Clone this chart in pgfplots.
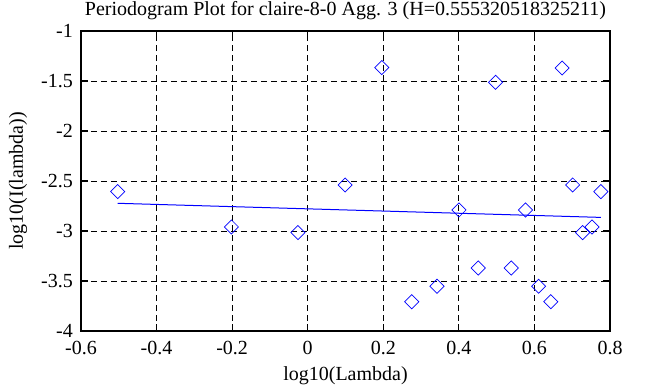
\documentclass[border=0pt]{standalone}
\usepackage{fontspec}
\setmainfont{Liberation Serif}
\usepackage{pgfplots}
\pgfplotsset{compat=1.18}
\begin{document}
\begin{tikzpicture}[x=1pt,y=1pt]
\useasboundingbox (-81,-56) rectangle (572,331);
\begin{axis}[
  at={(0,0)}, anchor=south west,
  scale only axis, width=529pt, height=300pt,
  xmin=-0.6, xmax=0.8, ymin=-4, ymax=-1,
  xtick={-0.6,-0.4,-0.2,0,0.2,0.4,0.6,0.8},
  xticklabels={-0.6,-0.4,-0.2,0,0.2,0.4,0.6,0.8},
  ytick={-4,-3.5,-3,-2.5,-2,-1.5,-1},
  yticklabels={{\raisebox{-7pt}{-4}},-3.5,-3,-2.5,-2,-1.5,-1},
  tick align=inside, major tick length=7pt,
  tick style={black, line width=1.2pt},
  axis line style={black, line width=1.3pt},
  grid=major,
  major grid style={black, line width=0.8pt, dash pattern=on 6pt off 4pt},
  font=\fontsize{20}{23}\selectfont,
  title={Periodogram Plot for claire-8-0 Agg. 3 (H=0.555320518325211)},
  title style={at={(axis description cs:0.5,1)}, anchor=base, yshift=9pt, inner sep=0pt},
  xlabel={log10(Lambda)},
  ylabel={log10(I(lambda))},
  xlabel style={at={(axis description cs:0.5,0)}, anchor=base, yshift=-50pt, inner sep=0pt},
  ylabel style={at={(axis description cs:-0.11,0.5)}, anchor=base, inner sep=0pt},
  xticklabel style={anchor=base, yshift=-24pt, inner sep=0pt},
  yticklabel style={anchor=east, xshift=-8pt, inner sep=0pt},
  clip=false,
]
\addplot[blue, only marks, mark=square, mark size=5pt,
  mark options={rotate=45, line width=0.7pt, fill=none}] coordinates {
(-0.5029,-2.606) (-0.2019,-2.960) (-0.0258,-3.016) (0.0991,-2.540)
(0.1961,-1.366) (0.2753,-3.707) (0.3422,-3.553) (0.4002,-2.790)
(0.4514,-3.370) (0.4971,-1.513) (0.5385,-3.370) (0.5763,-2.790)
(0.6111,-3.553) (0.6433,-3.707) (0.6732,-1.370) (0.7012,-2.540)
(0.7276,-3.016) (0.7524,-2.960) (0.7759,-2.606)
};
\addplot[blue, line width=1pt, no marks] coordinates {
(-0.5029,-2.723) (0.7759,-2.864)
};
\end{axis}
\end{tikzpicture}
\end{document}
